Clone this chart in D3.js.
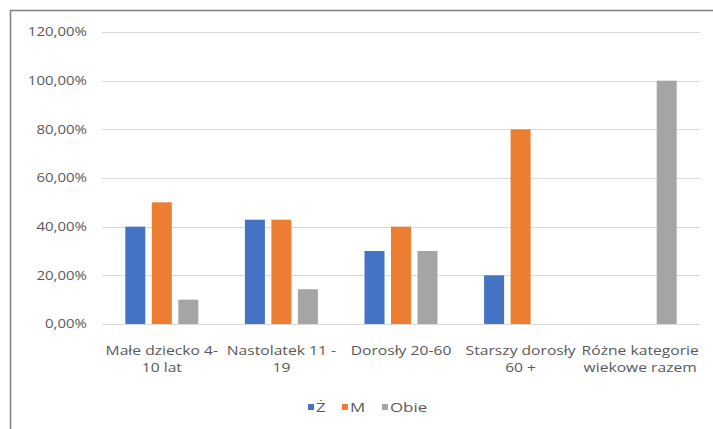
<!DOCTYPE html>
<html>
<head>
<meta charset="utf-8">
<script src="https://cdn.jsdelivr.net/npm/d3@7"></script>
<style>
  html, body { margin: 0; padding: 0; background: #fff; }
  svg { display: block; font-family: "Open Sans", "Liberation Sans", sans-serif; }
</style>
</head>
<body>
<svg id="chart" width="713" height="429"></svg>
<script>
const categories = [
  ["Małe dziecko 4-", "10 lat"],
  ["Nastolatek 11 -", "19"],
  ["Dorosły 20-60"],
  ["Starszy dorosły", "60 +"],
  ["Różne kategorie", "wiekowe razem"]
];
const seriesNames = ["Ż", "M", "Obie"];
const seriesColors = ["#4472C4", "#ED7D31", "#A5A5A5"];
const valuesZ = [40, 42.86, 30, 20, null];
const valuesM = [50, 42.86, 40, 80, null];
const valuesObie = [10, 14.29, 30, null, 100];
const yTicks = [0, 20, 40, 60, 80, 100, 120];

const series = [valuesZ, valuesM, valuesObie];
const svg = d3.select("#chart");
const textColor = "#595959";

// frame
svg.append("path")
  .attr("d", "M10.5,429 V10.5 H713")
  .attr("fill", "none").attr("stroke", "#7f7f7f").attr("stroke-width", 1.5);

const plotLeft = 102, plotRight = 700, plotTop = 32, plotBottom = 324;

const x0 = d3.scaleBand().domain(d3.range(categories.length)).range([plotLeft, plotRight]).paddingInner(0).paddingOuter(0);
const y = d3.scaleLinear().domain([0, 120]).range([plotBottom, plotTop]);

// gridlines
svg.append("g").selectAll("line").data(yTicks).join("line")
  .attr("x1", plotLeft).attr("x2", plotRight)
  .attr("y1", d => Math.round(y(d)) + 0.5).attr("y2", d => Math.round(y(d)) + 0.5)
  .attr("stroke", "#d9d9d9").attr("stroke-width", 1);

// y axis labels (stretched horizontally like the reference)
const fmt = d => d.toFixed(2).replace(".", ",") + "%";
svg.append("g").selectAll("text").data(yTicks).join("text")
  .attr("transform", d => `translate(87,${y(d)}) scale(1.2,1)`)
  .attr("text-anchor", "end").attr("dy", "0.35em")
  .attr("fill", textColor).style("font-size", "12.5px")
  .text(fmt);

// bars
const barW = 20, barGap = 6.5;
const offsets = [-(barW + barGap), 0, (barW + barGap)];
series.forEach((vals, si) => {
  svg.append("g").selectAll("rect")
    .data(vals.map((v, i) => ({v, i})).filter(d => d.v != null))
    .join("rect")
    .attr("x", d => x0(d.i) + x0.bandwidth() / 2 + offsets[si] - barW / 2)
    .attr("width", barW)
    .attr("y", d => y(d.v))
    .attr("height", d => y(0) - y(d.v))
    .attr("fill", seriesColors[si]);
});

// x axis labels
const xg = svg.append("g");
categories.forEach((lines, i) => {
  const cx = x0(i) + x0.bandwidth() / 2;
  lines.forEach((ln, j) => {
    xg.append("text")
      .attr("transform", `translate(${cx},${350 + j * 17}) scale(1.16,1)`)
      .attr("text-anchor", "middle").attr("dy", "0.35em")
      .attr("fill", textColor).style("font-size", "13.5px")
      .text(ln);
  });
});

// legend
const legendX = [308, 342, 382];
const lg = svg.append("g");
seriesNames.forEach((name, i) => {
  lg.append("rect").attr("x", legendX[i]).attr("y", 404).attr("width", 6).attr("height", 6).attr("fill", seriesColors[i]);
  lg.append("text").attr("transform", `translate(${legendX[i] + 8},407) scale(1.25,1)`).attr("dy", "0.35em")
    .attr("fill", textColor).style("font-size", "13.5px").text(name);
});
</script>
</body>
</html>
